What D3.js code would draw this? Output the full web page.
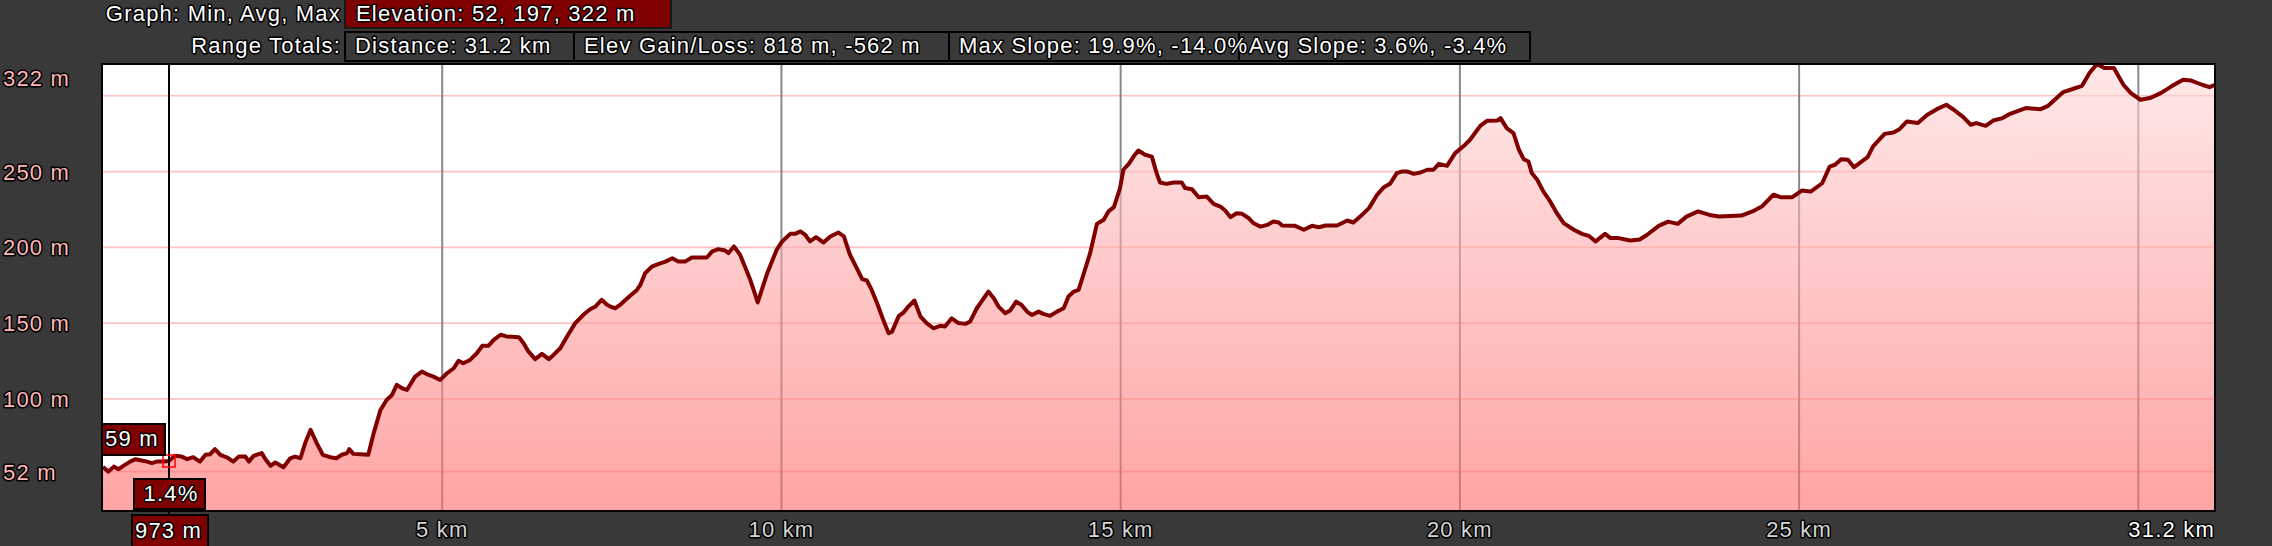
<!DOCTYPE html>
<html>
<head>
<meta charset="utf-8">
<script src="https://cdn.jsdelivr.net/npm/d3@7"></script>
<style>
  body { margin: 0; background: #393939; }
  .lbl {
    font-family: 'Liberation Sans', Arial, sans-serif;
    font-size: 22px;
    letter-spacing: 1.2px;
    stroke: #000;
    stroke-width: 3px;
    stroke-linejoin: round;
    paint-order: stroke;
  }
</style>
</head>
<body>
<script>
// elevation profile, distance (km) and elevation (m)
let distKm = [
  0, 0.08, 0.16, 0.23, 0.30, 0.40, 0.48, 0.57, 0.65, 0.72,
  0.79, 0.89, 0.97, 1.06, 1.16, 1.24, 1.33, 1.43, 1.51, 1.58,
  1.65, 1.73, 1.83, 1.92, 2.00, 2.10, 2.15, 2.22, 2.34, 2.40,
  2.47, 2.54, 2.66, 2.76, 2.83, 2.91, 2.98, 3.06, 3.15, 3.24,
  3.35, 3.44, 3.52, 3.60, 3.63, 3.69, 3.79, 3.91, 3.99, 4.09,
  4.18, 4.26, 4.33, 4.41, 4.48, 4.60, 4.70, 4.80, 4.87, 4.97,
  5.07, 5.17, 5.24, 5.31, 5.41, 5.51, 5.59, 5.68, 5.76, 5.86,
  5.95, 6.13, 6.20, 6.27, 6.37, 6.47, 6.57, 6.64, 6.74, 6.84,
  6.96, 7.08, 7.18, 7.26, 7.35, 7.43, 7.50, 7.55, 7.62, 7.70,
  7.77, 7.87, 7.92, 7.99, 8.09, 8.19, 8.29, 8.39, 8.48, 8.58,
  8.68, 8.90, 8.98, 9.07, 9.17, 9.22, 9.30, 9.39, 9.47, 9.54,
  9.59, 9.65, 9.71, 9.79, 9.86, 9.93, 10.01, 10.13, 10.20, 10.28,
  10.35, 10.42, 10.51, 10.62, 10.72, 10.84, 10.92, 11.01, 11.11, 11.19,
  11.26, 11.33, 11.41, 11.51, 11.58, 11.63, 11.73, 11.80, 11.87, 11.96,
  12.05, 12.14, 12.24, 12.34, 12.41, 12.51, 12.61, 12.71, 12.78, 12.88,
  13.05, 13.13, 13.20, 13.30, 13.37, 13.46, 13.54, 13.62, 13.69, 13.79,
  13.86, 13.96, 14.06, 14.16, 14.23, 14.31, 14.38, 14.45, 14.55, 14.65,
  14.75, 14.82, 14.90, 14.95, 14.99, 15.04, 15.12, 15.19, 15.26, 15.36,
  15.46, 15.53, 15.58, 15.68, 15.78, 15.90, 15.95, 16.05, 16.15, 16.27,
  16.37, 16.47, 16.54, 16.62, 16.71, 16.79, 16.89, 16.96, 17.06, 17.16,
  17.25, 17.33, 17.38, 17.57, 17.70, 17.82, 17.92, 18.02, 18.19, 18.34,
  18.43, 18.53, 18.66, 18.78, 18.88, 18.97, 19.07, 19.15, 19.22, 19.32,
  19.42, 19.52, 19.61, 19.69, 19.81, 19.93, 20.06, 20.15, 20.30, 20.40,
  20.55, 20.60, 20.69, 20.79, 20.87, 20.94, 21.01, 21.06, 21.14, 21.23,
  21.33, 21.43, 21.53, 21.68, 21.80, 21.90, 22.00, 22.14, 22.22, 22.34,
  22.51, 22.65, 22.76, 22.93, 23.07, 23.21, 23.34, 23.51, 23.68, 23.82,
  24.15, 24.34, 24.45, 24.62, 24.73, 24.90, 25.04, 25.17, 25.34, 25.45,
  25.53, 25.62, 25.72, 25.81, 26.01, 26.09, 26.26, 26.39, 26.48, 26.59,
  26.75, 26.89, 27.03, 27.17, 27.28, 27.42, 27.53, 27.61, 27.75, 27.86,
  28.00, 28.11, 28.34, 28.56, 28.67, 28.89, 29.00, 29.17, 29.28, 29.39,
  29.50, 29.64, 29.78, 29.89, 30.03, 30.17, 30.33, 30.50, 30.66, 30.78,
  30.94, 31.05, 31.13
]
let elevM = [
  55, 52, 55.3, 53.6, 55.8, 58.6, 60.2, 59.3, 58.6, 57.6,
  58.6, 58.6, 59, 62.4, 61.9, 60.2, 61.5, 58.6, 63.1, 63.5,
  66.8, 63.1, 61.3, 58.6, 61.9, 61.9, 58.6, 62.4, 64.2, 59.8,
  55.8, 58, 54.9, 60.8, 61.9, 60.8, 70.8, 79.6, 70.8, 63.1,
  61.5, 60.8, 63.1, 64.2, 66.8, 63.7, 63.5, 63.1, 77.4, 92.7,
  99.3, 102.6, 109.2, 107, 105.9, 114.7, 118, 115.8, 114.7, 112.5,
  116.9, 120.2, 125.1, 123.5, 125.7, 130.1, 135, 135, 138.9, 142.3,
  141.2, 140.7, 136.7, 131.3, 126.2, 129.7, 126.2, 129, 133.4, 141.2,
  150, 155.5, 159.2, 161, 165.4, 162.1, 160.5, 159.8, 162, 165.3,
  168, 171.9, 175.2, 182.9, 187.3, 189.1, 190.6, 192.8, 190.6, 190.6,
  193.3, 193.3, 197.3, 198.8, 197.9, 196.2, 200.6, 195.1, 186.3, 178.6,
  171.9, 163.6, 171.9, 182.9, 190.6, 198.4, 203.9, 208.9, 208.9, 210.5,
  208.3, 203.9, 206.7, 203.2, 207.2, 209.8, 207.2, 195.1, 186.3, 179,
  178.1, 171.9, 163.1, 151, 143.3, 144.4, 154.8, 157, 160.9, 164.9,
  154.3, 150, 146.6, 148.2, 147.7, 153.2, 150, 149.5, 151, 159.8,
  170.8, 166.4, 160.9, 156.5, 158.3, 164.2, 162, 157.6, 155.4, 157.6,
  156.1, 154.8, 157.6, 159.8, 167.5, 170.8, 171.9, 181.8, 196.2, 215.5,
  218.2, 223.7, 226.5, 233.5, 239, 251.2, 255.1, 259.9, 263.9, 261.1,
  259.9, 249, 242.8, 241.9, 242.8, 242.8, 239.1, 238.4, 233.1, 233.5,
  228.7, 226.9, 224.3, 219.9, 222.5, 222.1, 219.2, 215.9, 213.7, 214.8,
  217, 216.4, 214.4, 214.2, 211.6, 214.2, 213.3, 214.4, 214.4, 217.7,
  216.4, 220.3, 225.9, 234.7, 239.7, 241.9, 249, 250.1, 250.1, 248.5,
  249.4, 251.2, 251.2, 255.1, 253.8, 262.2, 267, 271, 280.2, 283.5,
  283.7, 285.3, 278.7, 275.4, 264.4, 258.2, 256.7, 249, 244.6, 236.9,
  230.3, 222.5, 216, 211.6, 208.9, 207.6, 203.9, 208.9, 206.1, 206.1,
  204.5, 205.2, 208.3, 214.2, 217, 215.5, 220.3, 223.7, 221.4, 220.3,
  221, 224.3, 226.9, 234.7, 233.1, 233.1, 237.5, 236.8, 242.3, 253.3,
  254.5, 258.2, 257.8, 252.9, 259.5, 266.6, 274.9, 275.8, 278, 283.1,
  282, 287.5, 291.2, 294.1, 290.8, 285.9, 280.9, 282, 280.2, 283.7,
  285.3, 288.1, 291.9, 291.2, 293.4, 302.4, 304, 306.6, 315, 321,
  318.3, 318.3, 307.3, 301.8, 297.4, 298.5, 301.8, 306.6, 310.6, 310.1,
  307.3, 305.7, 307.3
]

let yGrid = [52, 100, 150, 200, 250, 300]
let yLabels = [52, 100, 150, 200, 250]
let yMaxLabel = '322 m'
let xGrid = [5, 10, 15, 20, 25, 30]
let xLabels = [5, 10, 15, 20, 25]
let xEndLabel = '31.2 km'

let cursorKm = 0.973
let cursorElev = 59
let cursorSlope = '1.4%'

let graphTitle = 'Graph: Min, Avg, Max'
let elevText = 'Elevation: 52, 197, 322 m'
let rangeTitle = 'Range Totals:'
let rangeTexts = ['Distance: 31.2 km', 'Elev Gain/Loss: 818 m, -562 m',
                  'Max Slope: 19.9%, -14.0%', 'Avg Slope: 3.6%, -3.4%']

let W = 2272, H = 546
let plot = { left: 102, top: 64, right: 2215, bottom: 511 }
let boxEdges = [345, 574, 949, 1239, 1530]

let points = distKm.map((d, i) => ({ km: d, m: elevM[i] }))

let x = d3.scaleLinear().domain([0, 31.13]).range([plot.left + 1, plot.right])
let y = d3.scaleLinear().domain([26, 321]).range([plot.bottom, plot.top])

let svg = d3.select('body')
    .append('svg')
    .attr('width', W)
    .attr('height', H)

svg.append('rect')
    .attr('width', W)
    .attr('height', H)
    .attr('fill', '#393939')

let grad = svg.append('defs')
    .append('linearGradient')
    .attr('id', 'fillGrad')
    .attr('gradientUnits', 'userSpaceOnUse')
    .attr('x1', 0).attr('y1', plot.top)
    .attr('x2', 0).attr('y2', plot.bottom)
grad.append('stop').attr('offset', '0%').attr('stop-color', 'rgb(255,217,217)').attr('stop-opacity', 0.6)
grad.append('stop').attr('offset', '100%').attr('stop-color', 'rgb(255,104,104)').attr('stop-opacity', 0.6)

// plot background
svg.append('rect')
    .attr('x', plot.left)
    .attr('y', plot.top)
    .attr('width', plot.right - plot.left)
    .attr('height', plot.bottom - plot.top)
    .attr('fill', '#fff')

// grid
svg.append('g')
    .selectAll('line')
    .data(yGrid)
    .enter()
    .append('line')
    .attr('x1', plot.left)
    .attr('x2', plot.right)
    .attr('y1', d => y(d))
    .attr('y2', d => y(d))
    .attr('stroke', '#ffc0c0')
    .attr('stroke-width', 1.6)

svg.append('g')
    .selectAll('line')
    .data(xGrid)
    .enter()
    .append('line')
    .attr('x1', d => x(d))
    .attr('x2', d => x(d))
    .attr('y1', plot.top)
    .attr('y2', plot.bottom)
    .attr('stroke', '#888')
    .attr('stroke-width', 2)

// profile
let area = d3.area()
    .x(d => x(d.km))
    .y0(plot.bottom)
    .y1(d => y(d.m))

let line = d3.line()
    .x(d => x(d.km))
    .y(d => y(d.m))

svg.append('path')
    .datum(points)
    .attr('d', area)
    .attr('fill', 'url(#fillGrad)')

svg.append('path')
    .datum(points)
    .attr('d', line)
    .attr('fill', 'none')
    .attr('stroke', '#800000')
    .attr('stroke-width', 4)
    .attr('stroke-linejoin', 'round')

// cursor
let cx = x(cursorKm)
svg.append('line')
    .attr('x1', cx).attr('x2', cx)
    .attr('y1', plot.top).attr('y2', 516)
    .attr('stroke', '#000')
    .attr('stroke-width', 2)

svg.append('rect')
    .attr('x', cx - 6)
    .attr('y', y(cursorElev) - 6)
    .attr('width', 12)
    .attr('height', 12)
    .attr('fill', 'none')
    .attr('stroke', '#ff0000')
    .attr('stroke-width', 1.5)

// plot frame
svg.append('rect')
    .attr('x', plot.left)
    .attr('y', plot.top)
    .attr('width', plot.right - plot.left)
    .attr('height', plot.bottom - plot.top)
    .attr('fill', 'none')
    .attr('stroke', '#000')
    .attr('stroke-width', 2)

// y labels
svg.append('g')
    .selectAll('text')
    .data(yLabels)
    .enter()
    .append('text')
    .attr('class', 'lbl')
    .attr('x', 3)
    .attr('y', d => y(d) + 8)
    .attr('fill', '#ffb6b6')
    .text(d => d + ' m')

svg.append('text')
    .attr('class', 'lbl')
    .attr('x', 3)
    .attr('y', Math.max(y(322), plot.top + 14) + 8)
    .attr('fill', '#ffb6b6')
    .text(yMaxLabel)

// x labels
svg.append('g')
    .selectAll('text')
    .data(xLabels)
    .enter()
    .append('text')
    .attr('class', 'lbl')
    .attr('x', d => x(d))
    .attr('y', 537)
    .attr('text-anchor', 'middle')
    .attr('fill', '#d4d4d4')
    .text(d => d + ' km')

svg.append('text')
    .attr('class', 'lbl')
    .attr('x', plot.right)
    .attr('y', 537)
    .attr('text-anchor', 'end')
    .attr('fill', '#fff')
    .text(xEndLabel)

// cursor labels
function tag(x0, x1, y0, y1, tx, ty, anchor, txt) {
    svg.append('rect')
        .attr('x', x0).attr('y', y0)
        .attr('width', x1 - x0).attr('height', y1 - y0)
        .attr('fill', '#800000')
        .attr('stroke', '#000')
        .attr('stroke-width', 2)
    svg.append('text')
        .attr('class', 'lbl')
        .attr('x', tx).attr('y', ty)
        .attr('text-anchor', anchor)
        .attr('fill', '#fff')
        .text(txt)
}
tag(cx - 67, cx - 4, 424, 455, cx - 64, 446, 'start', cursorElev + ' m')
tag(cx - 35, cx + 36, 479, 509, cx + 2, 501, 'middle', cursorSlope)
tag(cx - 37, cx + 39, 515, 547, cx - 34, 538, 'start', Math.round(cursorKm * 1000) + ' m')

// header
svg.append('text')
    .attr('class', 'lbl')
    .attr('x', 341)
    .attr('y', 21)
    .attr('text-anchor', 'end')
    .attr('fill', '#fff')
    .text(graphTitle)

svg.append('rect')
    .attr('x', boxEdges[0]).attr('y', -2)
    .attr('width', 671 - boxEdges[0]).attr('height', 30)
    .attr('fill', '#800000')
    .attr('stroke', '#1a1a1a')
    .attr('stroke-width', 2)

svg.append('text')
    .attr('class', 'lbl')
    .attr('x', boxEdges[0] + 11)
    .attr('y', 21)
    .attr('fill', '#fff')
    .text(elevText)

svg.append('text')
    .attr('class', 'lbl')
    .attr('x', 341)
    .attr('y', 53)
    .attr('text-anchor', 'end')
    .attr('fill', '#fff')
    .text(rangeTitle)

// boxes first, then texts so long text runs over the next border
svg.append('g')
    .selectAll('rect')
    .data(rangeTexts)
    .enter()
    .append('rect')
    .attr('x', (d, i) => boxEdges[i])
    .attr('y', 32)
    .attr('width', (d, i) => boxEdges[i + 1] - boxEdges[i])
    .attr('height', 29)
    .attr('fill', '#393939')
    .attr('stroke', '#000')
    .attr('stroke-width', 2)

svg.append('g')
    .selectAll('text')
    .data(rangeTexts)
    .enter()
    .append('text')
    .attr('class', 'lbl')
    .attr('x', (d, i) => boxEdges[i] + 10)
    .attr('y', 53)
    .attr('fill', '#fff')
    .text(d => d)
</script>
</body>
</html>
